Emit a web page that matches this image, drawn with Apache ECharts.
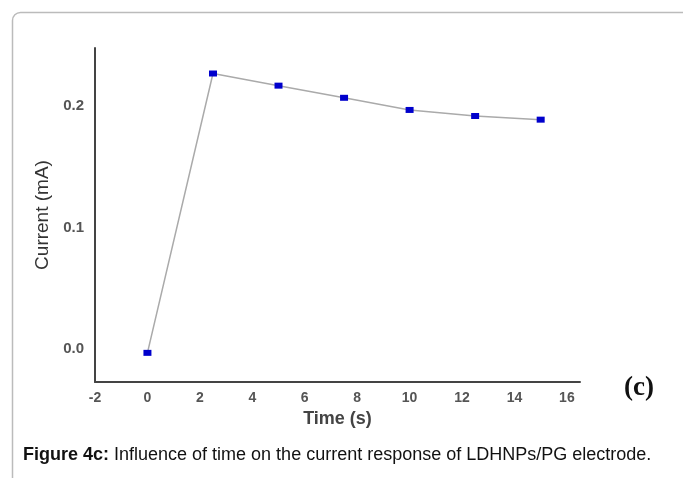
<!DOCTYPE html>
<html>
<head>
<meta charset="utf-8">
<script src="https://cdn.jsdelivr.net/npm/echarts@6/dist/echarts.min.js"></script>
<style>
html,body{margin:0;padding:0;background:#fff;}
#main{width:683px;height:478px;}
</style>
</head>
<body>
<div id="main"></div>
<script>
const timeValues = [0, 2.5, 5, 7.5, 10, 12.5, 15];
const currentValues = [-0.003, 0.227, 0.217, 0.207, 0.197, 0.192, 0.189];
const xAxisTitle = 'Time (s)';
const yAxisTitle = 'Current (mA)';
const panelLabel = '(c)';
const captionBold = 'Figure 4c:';
const captionText = ' Influence of time on the current response of LDHNPs/PG electrode.';

const chart = echarts.init(document.getElementById('main'));
const points = timeValues.map((t, i) => [t, currentValues[i]]);

chart.setOption({
  animation: false,
  backgroundColor: '#fff',
  grid: { left: 95, top: 48, width: 485, height: 334 },
  xAxis: {
    type: 'value', min: -2, max: 16.5, interval: 2,
    name: xAxisTitle, nameLocation: 'middle', nameGap: 22,
    nameTextStyle: { fontFamily: 'Liberation Sans', fontSize: 18, fontWeight: 'bold', color: '#444' },
    axisLine: { show: true, onZero: false, lineStyle: { color: '#444', width: 2 } },
    axisTick: { show: false },
    splitLine: { show: false },
    axisLabel: { fontFamily: 'Liberation Sans', fontSize: 14, fontWeight: 'bold', color: '#555', margin: 9, showMaxLabel: false }
  },
  yAxis: {
    type: 'value', min: -0.027, max: 0.248,
    name: yAxisTitle, nameLocation: 'middle', nameGap: 41,
    nameTextStyle: { fontFamily: 'Liberation Sans', fontSize: 19, color: '#333' },
    axisLine: { show: true, onZero: false, lineStyle: { color: '#444', width: 2 } },
    axisTick: { show: false },
    splitLine: { show: false },
    axisLabel: {
      fontFamily: 'Liberation Sans', fontSize: 15, fontWeight: 'bold', color: '#555', margin: 11,
      showMinLabel: false, showMaxLabel: false,
      formatter: v => Math.abs(v * 10 - Math.round(v * 10)) < 1e-6 ? v.toFixed(1) : ''
    }
  },
  series: [{
    type: 'line',
    data: points,
    smooth: false,
    symbol: 'rect',
    symbolSize: [8, 6],
    itemStyle: { color: '#0000cc' },
    lineStyle: { color: '#aaaaaa', width: 1.5 }
  }],
  graphic: [
    {
      type: 'rect', left: 10, top: 10, z: -1,
      shape: { x: 0, y: 0, width: 700, height: 500, r: [8, 0, 0, 0] },
      style: { fill: 'none', stroke: '#bbbbbb', lineWidth: 1.5 }
    },
    {
      type: 'text', left: 624, top: 375,
      style: { text: panelLabel, font: 'bold 27px "Liberation Serif"', fill: '#111' }
    },
    {
      type: 'text', left: 23, top: 446,
      style: {
        text: '{b|' + captionBold + '}{n|' + captionText + '}',
        rich: {
          b: { fontFamily: 'Liberation Sans', fontWeight: 'bold', fontSize: 18, fill: '#111' },
          n: { fontFamily: 'Liberation Sans', fontSize: 18, fill: '#111' }
        }
      }
    }
  ]
});
</script>
</body>
</html>
